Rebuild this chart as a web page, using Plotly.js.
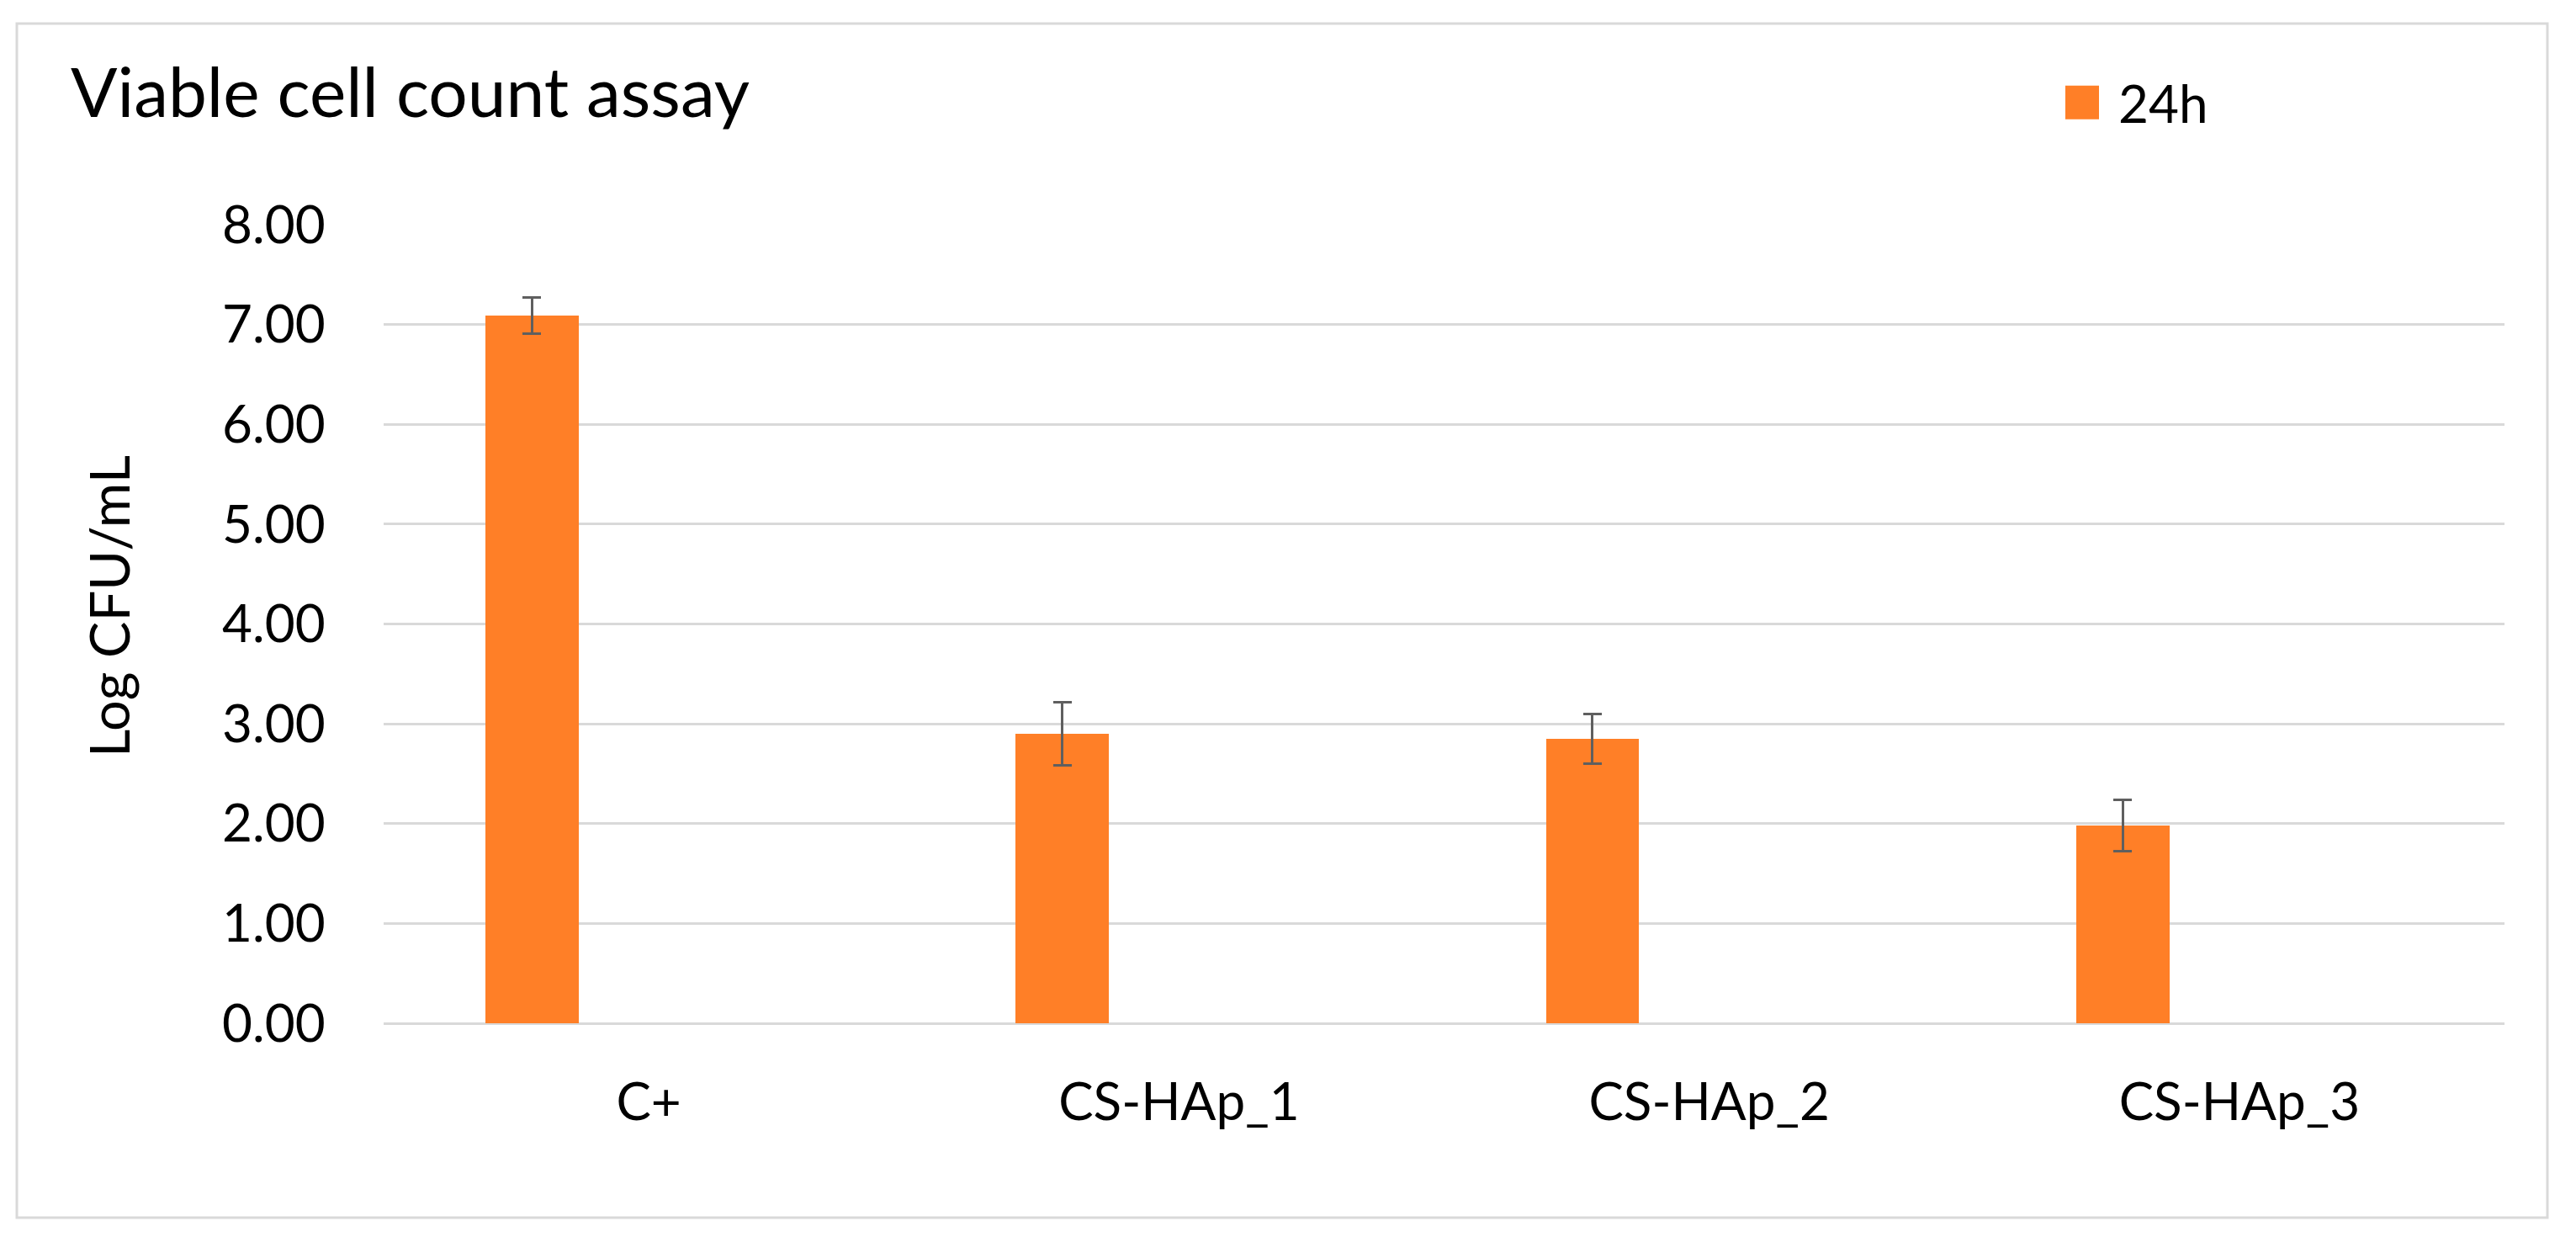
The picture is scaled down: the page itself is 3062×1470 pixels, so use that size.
<!DOCTYPE html>
<html>
<head>
<meta charset="utf-8">
<script src="https://cdn.plot.ly/plotly-3.0.1.min.js"></script>
<style>html,body{margin:0;padding:0;background:#fff;}#chart{width:3062px;height:1470px;}</style>
</head>
<body>
<div id="chart"></div>
<script>
// ---- data ----
const categories = ['C+', 'CS-HAp_1', 'CS-HAp_2', 'CS-HAp_3'];
const seriesName = '24h';
const values24h = [7.09, 2.90, 2.85, 1.98];
const errors24h = [0.18, 0.32, 0.25, 0.26];
const yTicks = [0, 1, 2, 3, 4, 5, 6, 7, 8];
const chartTitle = 'Viable cell count assay';
const yTitle = 'Log CFU/mL';

// ---- layout geometry ----
const W = 3062, H = 1470;
const mL = 456, mR = 85, mT = 267, mB = 254;
const pw = W - mL - mR, ph = H - mT - mB;
const FONT = 'Lato, "Open Sans", sans-serif';
const bx0 = 20, bx1 = 3028, by0 = 28, by1 = 1447;

const trace = {
  type: 'bar',
  x: categories,
  y: values24h,
  name: seriesName,
  width: 0.176,
  offset: -0.308,
  marker: {color: '#ff7f27'},
  error_y: {type: 'data', array: errors24h, visible: true, color: '#5f5f5f', thickness: 3, width: 11},
  hoverinfo: 'x+y'
};

const layout = {
  width: W, height: H,
  margin: {l: mL, r: mR, t: mT, b: mB, pad: 0, autoexpand: false},
  paper_bgcolor: '#ffffff',
  plot_bgcolor: '#ffffff',
  font: {family: FONT, size: 62, color: '#000000'},
  title: {
    text: chartTitle,
    font: {family: FONT, size: 82, color: '#000000'},
    xref: 'container', yref: 'container',
    x: 84 / W, xanchor: 'left',
    y: 1 - 110 / H, yanchor: 'middle'
  },
  showlegend: true,
  legend: {
    xref: 'paper', yref: 'paper',
    x: (2432 - mL) / pw, xanchor: 'left',
    y: (mT + ph - 122) / ph, yanchor: 'middle',
    font: {family: FONT, size: 62, color: '#000000'},
    bgcolor: 'rgba(0,0,0,0)',
    borderwidth: 0,
    itemwidth: 76
  },
  bargap: 0,
  xaxis: {
    type: 'category',
    showgrid: false,
    showline: false,
    zeroline: false,
    ticks: 'outside', ticklen: 40, tickcolor: 'rgba(0,0,0,0)',
    tickfont: {family: FONT, size: 62, color: '#000000'},
    fixedrange: true
  },
  yaxis: {
    range: [0, 8],
    tickvals: yTicks,
    tickformat: '.2f',
    showgrid: true, gridcolor: '#d9d9d9', gridwidth: 3,
    zeroline: true, zerolinecolor: '#d9d9d9', zerolinewidth: 3,
    showline: false,
    ticks: 'outside', ticklen: 56, tickcolor: 'rgba(0,0,0,0)',
    tickfont: {family: FONT, size: 62, color: '#000000'},
    title: {text: yTitle, font: {family: FONT, size: 65, color: '#000000'}, standoff: 88},
    fixedrange: true
  },
  shapes: [{
    type: 'rect', xref: 'paper', yref: 'paper', layer: 'below',
    x0: (bx0 - mL) / pw, x1: (bx1 - mL) / pw,
    y0: (mT + ph - by1) / ph, y1: (mT + ph - by0) / ph,
    line: {color: '#d9d9d9', width: 3},
    fillcolor: 'rgba(0,0,0,0)'
  }]
};

Plotly.newPlot('chart', [trace], layout, {displayModeBar: false, staticPlot: true}).then(function (gd) {
  // enlarge the legend swatch (Plotly caps legend symbol size)
  gd.querySelectorAll('.legend .legendpoints path').forEach(function (p) {
    p.setAttribute('d', 'M20,20H-20V-20H20Z');
  });
  gd.querySelectorAll('.legend [clip-path]').forEach(function (el) {
    el.removeAttribute('clip-path');
  });
  // Excel places the axis title slightly above the plot centre
  const yt = gd.querySelector('.g-ytitle');
  if (yt) yt.setAttribute('transform', 'translate(0,-21)');
});
</script>
</body>
</html>
